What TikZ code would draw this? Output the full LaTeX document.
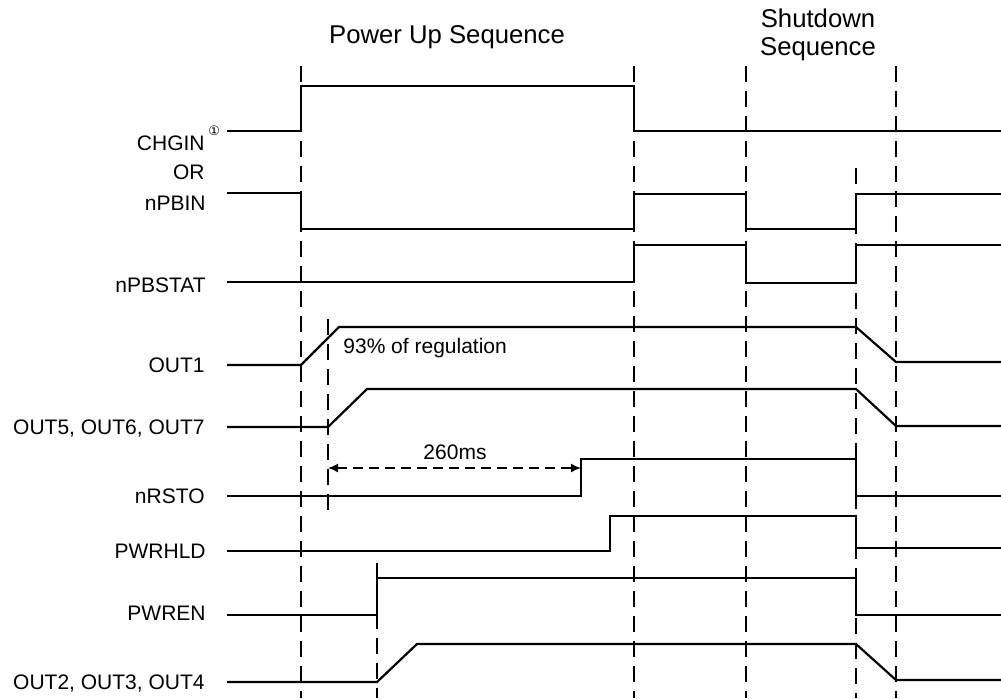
\documentclass[tikz,border=0pt]{standalone}
\usepackage{fontspec}
\setmainfont{Liberation Sans}
\newfontfamily\symfont{DejaVu Sans}
\usetikzlibrary{arrows.meta}
\begin{document}
\begin{tikzpicture}[x=0.5pt,y=-0.5pt,
  sig/.style={line width=1.1pt, line join=miter},
  guide/.style={line width=0.9pt, dash pattern=on 8pt off 4.5pt},
  lbl/.style={anchor=base east, inner sep=0pt, font=\fontsize{10.5}{12}\selectfont},
  note/.style={inner sep=0pt, font=\fontsize{10.5}{12}\selectfont},
  ttl/.style={anchor=base, inner sep=0pt, font=\fontsize{12.85}{14}\selectfont},
  dimarrow/.style={line width=0.8pt, dash pattern=on 5pt off 3pt,
    {Latex[length=5pt,width=4.5pt]}-{Latex[length=5pt,width=4.5pt]}}
]
\useasboundingbox (0,0) rectangle (1001,698);

% titles
\node[ttl] (tpu) at (447,43) {Power Up Sequence};
\node[ttl] (tsd1) at (818,27) {Shutdown};
\node[ttl] (tsd2) at (818,55) {Sequence};

% guide lines
\draw[guide] (301,66) -- (301,698);
\draw[guide] (634,66) -- (634,698);
\draw[guide] (746,66) -- (746,698);
\draw[guide] (896,66) -- (896,698);
\draw[guide] (856,168) -- (856,698);
\draw[guide] (328,319) -- (328,515);
\draw[guide] (377,563) -- (377,698);

% labels
\node[lbl] (lchg) at (205,150) {CHGIN};
\node[inner sep=0pt, anchor=west, font=\symfont\fontsize{6.5}{7}\selectfont] (lsup) at (208,131) {①};
\node[lbl] (lor) at (205,179) {OR};
\node[lbl] (lpbin) at (206,210) {nPBIN};
\node[lbl] (lpbst) at (206,292) {nPBSTAT};
\node[lbl] (lout1) at (205,372) {OUT1};
\node[lbl] (lout5) at (205,434) {OUT5, OUT6, OUT7};
\node[lbl] (lrst) at (205,503) {nRSTO};
\node[lbl] (lhld) at (206,558) {PWRHLD};
\node[lbl] (len) at (206,620) {PWREN};
\node[lbl] (lout2) at (205,689) {OUT2, OUT3, OUT4};

% signals
\draw[sig] (227,131) -- (301,131) -- (301,86) -- (634,86) -- (634,131) -- (1001,131);
\draw[sig] (227,193) -- (301,193) -- (301,229) -- (634,229) -- (634,194) -- (746,194) -- (746,229) -- (856,229) -- (856,194) -- (1001,194);
\draw[sig] (227,282) -- (634,282) -- (634,245) -- (746,245) -- (746,283) -- (856,283) -- (856,245) -- (1001,245);
\draw[sig] (227,365) -- (301,365) -- (339,327) -- (856,327) -- (896,362) -- (1001,362);
\draw[sig] (227,427) -- (328,427) -- (367,389) -- (856,389) -- (896,426) -- (1001,426);
\draw[sig] (227,496) -- (581,496) -- (581,459) -- (856,459) -- (856,496) -- (1001,496);
\draw[sig] (227,551) -- (610,551) -- (610,516) -- (856,516) -- (856,548) -- (1001,548);
\draw[sig] (227,615) -- (377,615) -- (377,578) -- (856,578) -- (856,615) -- (1001,615);
\draw[sig] (227,682) -- (377,682) -- (417,644) -- (856,644) -- (896,680) -- (1001,680);

% annotations
\node[note, anchor=base west] (reg) at (343,353) {93\% of regulation};
\coordinate (a1) at (328,468);
\coordinate (a2) at (581,468);
\draw[dimarrow] (a1) -- (a2);
\node[note, anchor=base] (t260) at (455,459) {260ms};
\end{tikzpicture}
\end{document}
